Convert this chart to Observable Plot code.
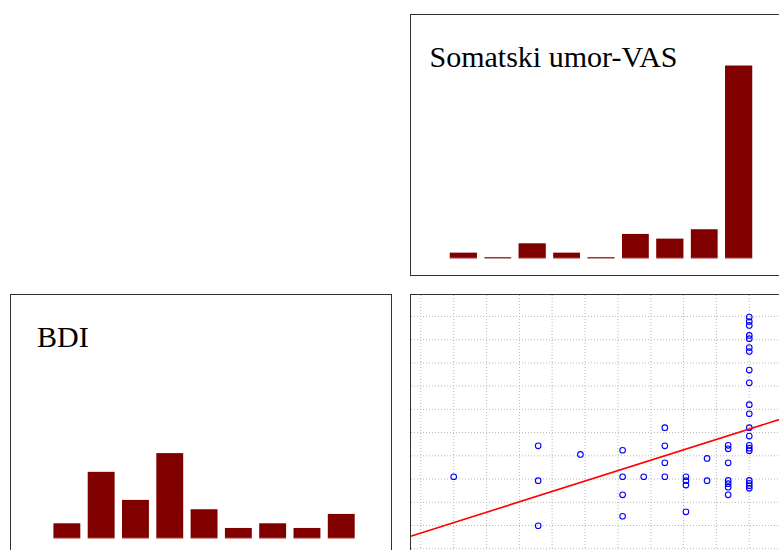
<!DOCTYPE html>
<html><head><meta charset="utf-8">
<script src="https://cdn.jsdelivr.net/npm/d3@7"></script>
<script src="https://cdn.jsdelivr.net/npm/@observablehq/plot@0.6"></script>
<style>
html,body{margin:0;padding:0;background:#fff;overflow:hidden;}
#wrap{position:relative;width:779px;height:550px;overflow:hidden;background:#fff;}
.panel{position:absolute;width:380px;height:260px;border:1px solid #333;}
.panel.cut{border-right:none;}
.panel svg{display:block;}
</style></head><body><div id="wrap"></div>
<script>
// ---- data ----
const vasName = "Somatski umor-VAS";
const bdiName = "BDI";

const vasBinEdges = [2.83, 3.65, 4.46, 5.28, 6.09, 6.91, 7.72, 8.54, 9.35, 10.17];
const vasCounts   = [1, 0, 3, 1, 0, 5, 4, 6, 41];

const bdiBinEdges = [8.5, 18.6, 28.7, 38.8, 48.9, 59.0, 69.1, 79.2, 89.3, 99.4];
const bdiCounts   = [3, 14, 8, 18, 6, 2, 3, 2, 5];

const vasValues = [3,
  5, 5, 5,
  6,
  7, 7, 7, 7,
  7.5,
  8, 8, 8, 8,
  8.5, 8.5, 8.5, 8.5,
  9, 9,
  9.5, 9.5, 9.5, 9.5, 9.5, 9.5, 9.5,
  10, 10, 10, 10, 10, 10, 10, 10, 10, 10, 10, 10, 10, 10, 10, 10, 10, 10, 10, 10];
const bdiValues = [31.0,
  44.3, 29.3, 9.9,
  40.6,
  42.4, 31.0, 23.2, 14.0,
  31.0,
  52.1, 44.3, 37.0, 31.0,
  31.0, 29.3, 27.4, 15.9,
  38.9, 29.3,
  44.5, 43.0, 37.0, 29.4, 28.0, 26.5, 23.2,
  99.7, 97.8, 96.1, 91.8, 90.4, 86.6, 84.9, 76.9, 71.4, 62.0, 58.1, 52.1, 48.5, 44.5, 43.3, 42.2, 29.4, 28.2, 27.1, 26.0];

const fitIntercept = -6.04;
const fitSlope = 5.758;

const vasGrid = [2.22, 3, 3.78, 4.56, 5.33, 6.11, 6.89, 7.67, 8.44, 9.22, 10, 10.78];
const bdiGrid = [0, 10, 20, 30, 40, 50, 60, 70, 80, 90, 100];

const vasDomain = [2, 11];
const bdiDomain = [-2.9, 109];
const countDomain = [-3.78, 51.8];

// ---- drawing ----
const wrap = document.getElementById("wrap");
const W = 380, H = 260;
const barColor = "#800000";
const serif = "'Liberation Serif', 'Times New Roman', serif";

function panel(left, top, chart, cut) {
  const d = document.createElement("div");
  d.className = cut ? "panel cut" : "panel";
  d.style.left = left + "px";
  d.style.top = top + "px";
  d.appendChild(chart);
  wrap.appendChild(d);
}

function histPanel(edges, counts, xDomain, title, dx, dy) {
  const bins = counts.map((c, i) => ({x1: edges[i], x2: edges[i + 1], c}));
  return Plot.plot({
    width: W, height: H, margin: 0,
    x: {domain: xDomain, axis: null},
    y: {domain: countDomain, axis: null},
    marks: [
      Plot.ruleY(bins, {x1: "x1", x2: "x2", y: () => 0, stroke: barColor, strokeWidth: 1.2, insetLeft: 3.7, insetRight: 3.7}),
      Plot.rectY(bins, {x1: "x1", x2: "x2", y1: () => 0, y2: "c", fill: barColor, insetLeft: 3.7, insetRight: 3.7}),
      Plot.text([title], {frameAnchor: "top-left", dx, dy, text: d => d, fontSize: 30, fontFamily: serif,
        textAnchor: "start", lineAnchor: "bottom", fill: "#000"})
    ]
  });
}

panel(410, 14, histPanel(vasBinEdges, vasCounts, vasDomain, vasName, 18, 51), true);
panel(10, 294, histPanel(bdiBinEdges, bdiCounts, bdiDomain, bdiName, 25.5, 51.7), false);

const idx = vasValues.map((_, i) => i);
const fitLine = vasDomain.map(x => ({x, y: fitIntercept + fitSlope * x}));
const scatter = Plot.plot({
  width: W, height: H, margin: 0,
  x: {domain: vasDomain, axis: null},
  y: {domain: bdiDomain, axis: null},
  marks: [
    Plot.ruleX(vasGrid, {stroke: "#b8b8b8", strokeDasharray: "1,2"}),
    Plot.ruleY(bdiGrid, {stroke: "#b8b8b8", strokeDasharray: "1,2"}),
    Plot.dot(idx, {x: i => vasValues[i], y: i => bdiValues[i], r: 2.8, stroke: "#0000ff", strokeWidth: 1.1, fill: "none"}),
    Plot.line(fitLine, {x: "x", y: "y", stroke: "#ff0000", strokeWidth: 1.6})
  ]
});
panel(410, 294, scatter, true);
</script>
</body></html>
